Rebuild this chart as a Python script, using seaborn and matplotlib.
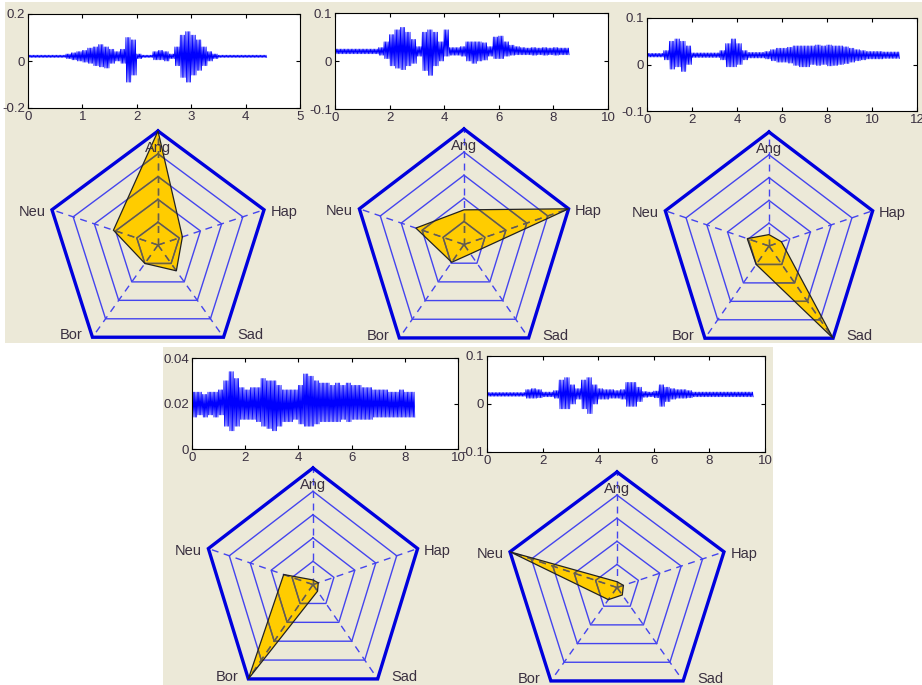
import numpy as np
import pandas as pd
import seaborn as sns
import matplotlib.pyplot as plt
from matplotlib.patches import Rectangle
from matplotlib.ticker import FormatStrFormatter

plt.rcParams['font.family'] = ['Liberation Sans', 'DejaVu Sans']

W, H = 922, 685

emotions = ['Ang', 'Hap', 'Sad', 'Bor', 'Neu']

# speech waveforms: upper / lower envelope read every `step` seconds
wav1_step = 0.1
wav1_hi = [.025, .025, .025, .025, .025, .025, .025, .03, .035, .04,
           .045, .055, .06, .07, .06, .05, .04, .05, .10, .09,
           .03, .025, .025, .04, .045, .04, .03, .06, .11, .125,
           .11, .09, .06, .04, .03, .025, .025, .025, .025, .025,
           .025, .025, .025, .025]
wav1_lo = [.015, .015, .015, .015, .015, .015, .015, .01, .005, .0,
           -.005, -.01, -.02, -.025, -.03, -.01, .0, -.01, -.09, -.06,
           .01, .015, .015, .005, .005, .0, .01, -.02, -.07, -.09,
           -.06, -.04, -.02, .0, .01, .015, .015, .015, .015, .015,
           .015, .015, .015, .015]

wav2_step = 0.2
wav2_hi = [.025, .025, .025, .025, .025, .025, .025, .025, .028, .04,
           .055, .065, .07, .06, .045, .03, .06, .065, .06, .04,
           .065, .028, .028, .03, .04, .04, .04, .038, .03, .05,
           .052, .04, .033, .03, .028, .027, .028, .027, .028, .027,
           .028, .027, .027]
wav2_lo = [.015, .015, .015, .015, .015, .015, .015, .015, .012, .005,
           -.01, -.015, -.018, -.01, -.005, .01, -.02, -.03, -.01, .0,
           .01, .012, .012, .01, .0, -.005, .0, .002, .01, .005,
           .005, .01, .012, .013, .013, .013, .012, .013, .012, .013,
           .012, .013, .013]

wav3_step = 0.25
wav3_hi = [.024, .024, .024, .03, .05, .055, .05, .04, .025, .025,
           .025, .025, .025, .03, .045, .055, .045, .03, .026, .026,
           .026, .028, .032, .035, .035, .037, .04, .04, .04, .04,
           .042, .04, .042, .04, .04, .038, .035, .032, .03, .028,
           .028, .028, .027, .027, .027]
wav3_lo = [.016, .016, .016, .01, -.01, -.005, -.015, .0, .015, .015,
           .015, .015, .015, .01, -.005, -.005, .0, .01, .014, .014,
           .014, .012, .008, .005, .005, .003, -.002, -.005, -.005, .0,
           -.002, .0, -.003, -.002, .0, .002, .005, .008, .01, .012,
           .012, .012, .013, .013, .013]

wav4_step = 0.2
wav4_hi = [.025, .025, .024, .025, .025, .026, .03, .034, .031, .027,
           .026, .027, .027, .031, .03, .03, .028, .026, .026, .026,
           .028, .033, .032, .03, .029, .029, .028, .029, .028, .029,
           .028, .028, .027, .027, .026, .026, .026, .025, .025, .026,
           .025, .025]
wav4_lo = [.014, .015, .014, .015, .014, .015, .01, .008, .01, .013,
           .013, .013, .012, .01, .009, .008, .01, .012, .012, .013,
           .011, .01, .01, .011, .012, .012, .012, .012, .013, .012,
           .013, .013, .013, .013, .014, .014, .014, .014, .014, .014,
           .014, .014]

wav5_step = 0.2
wav5_hi = [.024, .024, .024, .024, .024, .024, .024, .03, .032, .03,
           .025, .025, .028, .05, .055, .04, .032, .05, .055, .04,
           .032, .03, .03, .028, .03, .045, .045, .035, .026, .025,
           .027, .04, .035, .032, .03, .03, .028, .025, .025, .025,
           .025, .025, .025, .025, .025, .025, .025, .025]
wav5_lo = [.016, .016, .016, .016, .016, .016, .016, .012, .012, .013,
           .015, .015, .012, -.01, -.01, .0, .01, -.01, -.02, .0,
           .01, .01, .012, .012, .01, -.005, -.005, .005, .014, .015,
           .013, -.005, .005, .01, .012, .012, .013, .015, .015, .015,
           .015, .015, .015, .015, .015, .015, .015, .015]

wav_xlim = [(0, 5), (0, 10), (0, 12), (0, 10), (0, 10)]
wav_xticks = [[0, 1, 2, 3, 4, 5], [0, 2, 4, 6, 8, 10], [0, 2, 4, 6, 8, 10, 12],
              [0, 2, 4, 6, 8, 10], [0, 2, 4, 6, 8, 10]]
wav_ylim = [(-0.2, 0.2), (-0.1, 0.1), (-0.1, 0.1), (0, 0.04), (-0.1, 0.1)]
wav_yticks = [[-0.2, 0, 0.2], [-0.1, 0, 0.1], [-0.1, 0, 0.1],
              [0, 0.02, 0.04], [-0.1, 0, 0.1]]

# emotion scores (Ang, Hap, Sad, Bor, Neu), fraction of outer ring
radar1 = [1.00, 0.23, 0.28, 0.20, 0.42]
radar2 = [0.30, 1.00, 0.10, 0.19, 0.46]
radar3 = [0.10, 0.12, 1.00, 0.20, 0.21]
radar4 = [0.04, 0.05, 0.07, 1.00, 0.28]
radar5 = [0.05, 0.06, 0.08, 0.13, 1.00]
ring_levels = [0.2, 0.4, 0.6, 0.8, 1.0]

waves = [(wav1_hi, wav1_lo, wav1_step), (wav2_hi, wav2_lo, wav2_step),
         (wav3_hi, wav3_lo, wav3_step), (wav4_hi, wav4_lo, wav4_step),
         (wav5_hi, wav5_lo, wav5_step)]
radars = [radar1, radar2, radar3, radar4, radar5]

# layout in pixels
wav_boxes = [(28, 14, 300, 108), (335, 13, 608, 109), (647, 18, 917, 111),
             (192, 358, 458, 449), (487, 356, 765, 452)]
radar_geom = [(158, 245, 111.5, 114), (464, 244.5, 110, 115.5),
              (769, 246, 109, 114), (313, 584.6, 110, 116.6),
              (617, 587.5, 112.5, 115.5)]

BEIGE = '#ECE9D8'
TXT = '#3a3040'


def box(l, t, r, b):
    return [l / W, 1 - b / H, (r - l) / W, (b - t) / H]


def zigzag(hi, lo, step, n=4):
    hi = np.asarray(hi)
    lo = np.asarray(lo)
    t0 = np.arange(len(hi)) * step
    sub = np.arange(2 * n) * step / (2 * n)
    t = (t0[:, None] + sub[None, :]).ravel()
    y = np.where(np.arange(2 * n) % 2 == 0, hi[:, None], lo[:, None]).ravel()
    return pd.DataFrame({'t': t, 'amp': y})


fig = plt.figure(figsize=(W / 100, H / 100), dpi=100)
fig.patch.set_facecolor('white')
for blk in [(5, 2, 922, 343), (163, 347, 773, 685)]:
    b = box(*blk)
    fig.add_artist(Rectangle(b[:2], b[2], b[3], transform=fig.transFigure,
                             facecolor=BEIGE, edgecolor='none', zorder=0))

# waveforms
for i, (hi, lo, step) in enumerate(waves):
    ax = fig.add_axes(box(*wav_boxes[i]))
    ax.set_facecolor('white')
    df = zigzag(hi, lo, step)
    sns.lineplot(data=df, x='t', y='amp', ax=ax, color='#0000ff', lw=0.55,
                 estimator=None, sort=False)
    ax.set_xlim(*wav_xlim[i])
    ax.set_ylim(*wav_ylim[i])
    ax.set_xticks(wav_xticks[i])
    ax.set_yticks(wav_yticks[i])
    ax.yaxis.set_major_formatter(FormatStrFormatter('%g'))
    ax.set_xlabel('')
    ax.set_ylabel('')
    ax.tick_params(direction='in', top=True, right=True, length=3, width=0.8,
                   labelsize=9.5, labelcolor=TXT, pad=2)
    for s in ax.spines.values():
        s.set_linewidth(0.8)
        s.set_color('black')

# radar charts
ang = np.deg2rad([90, 18, -54, -126, 162])
cx, cy = np.cos(ang), np.sin(ang)
label_pos = [(0, 0.85, 'center'), (1.01, 0.29, 'left'), (0.71, -0.79, 'left'),
             (-0.68, -0.79, 'right'), (-1.01, 0.29, 'right')]

for i, vals in enumerate(radars):
    x0, y0, rx, ry = radar_geom[i]
    ax = fig.add_axes(box(x0 - rx, y0 - ry, x0 + rx, y0 + ry))
    ax.set_xlim(-1, 1)
    ax.set_ylim(-1, 1)
    ax.axis('off')
    ax.patch.set_alpha(0)

    v = np.asarray(vals)
    poly = ax.fill(v * cx, v * cy, facecolor='#FFCC00', edgecolor='none', zorder=1)[0]

    for lev in ring_levels[:-1]:
        xs = np.append(lev * cx, lev * cx[0])
        ys = np.append(lev * cy, lev * cy[0])
        ax.plot(xs, ys, color='#4444ee', lw=1, zorder=2)
        ln, = ax.plot(xs, ys, color='#6b6238', lw=1, zorder=3)
        ln.set_clip_path(poly)
    for k in range(5):
        ax.plot([0, cx[k]], [0, cy[k]], color='#4444ee', lw=1,
                linestyle=(0, (5, 4)), zorder=2)
        ln, = ax.plot([0, cx[k]], [0, cy[k]], color='#6b6238', lw=1,
                      linestyle=(0, (5, 4)), zorder=3)
        ln.set_clip_path(poly)

    ax.fill(v * cx, v * cy, facecolor='none', edgecolor='#222222', lw=0.9, zorder=5)
    ax.plot(np.append(cx, cx[0]), np.append(cy, cy[0]), color='#0000dd', lw=2.4,
            zorder=4, solid_joinstyle='miter', clip_on=False)

    for name, (lx, ly, ha) in zip(emotions, label_pos):
        ax.text(lx, ly, name, ha=ha, va='center', fontsize=10.5, color=TXT,
                zorder=6, clip_on=False)

fig.savefig('out.png', dpi=100)
